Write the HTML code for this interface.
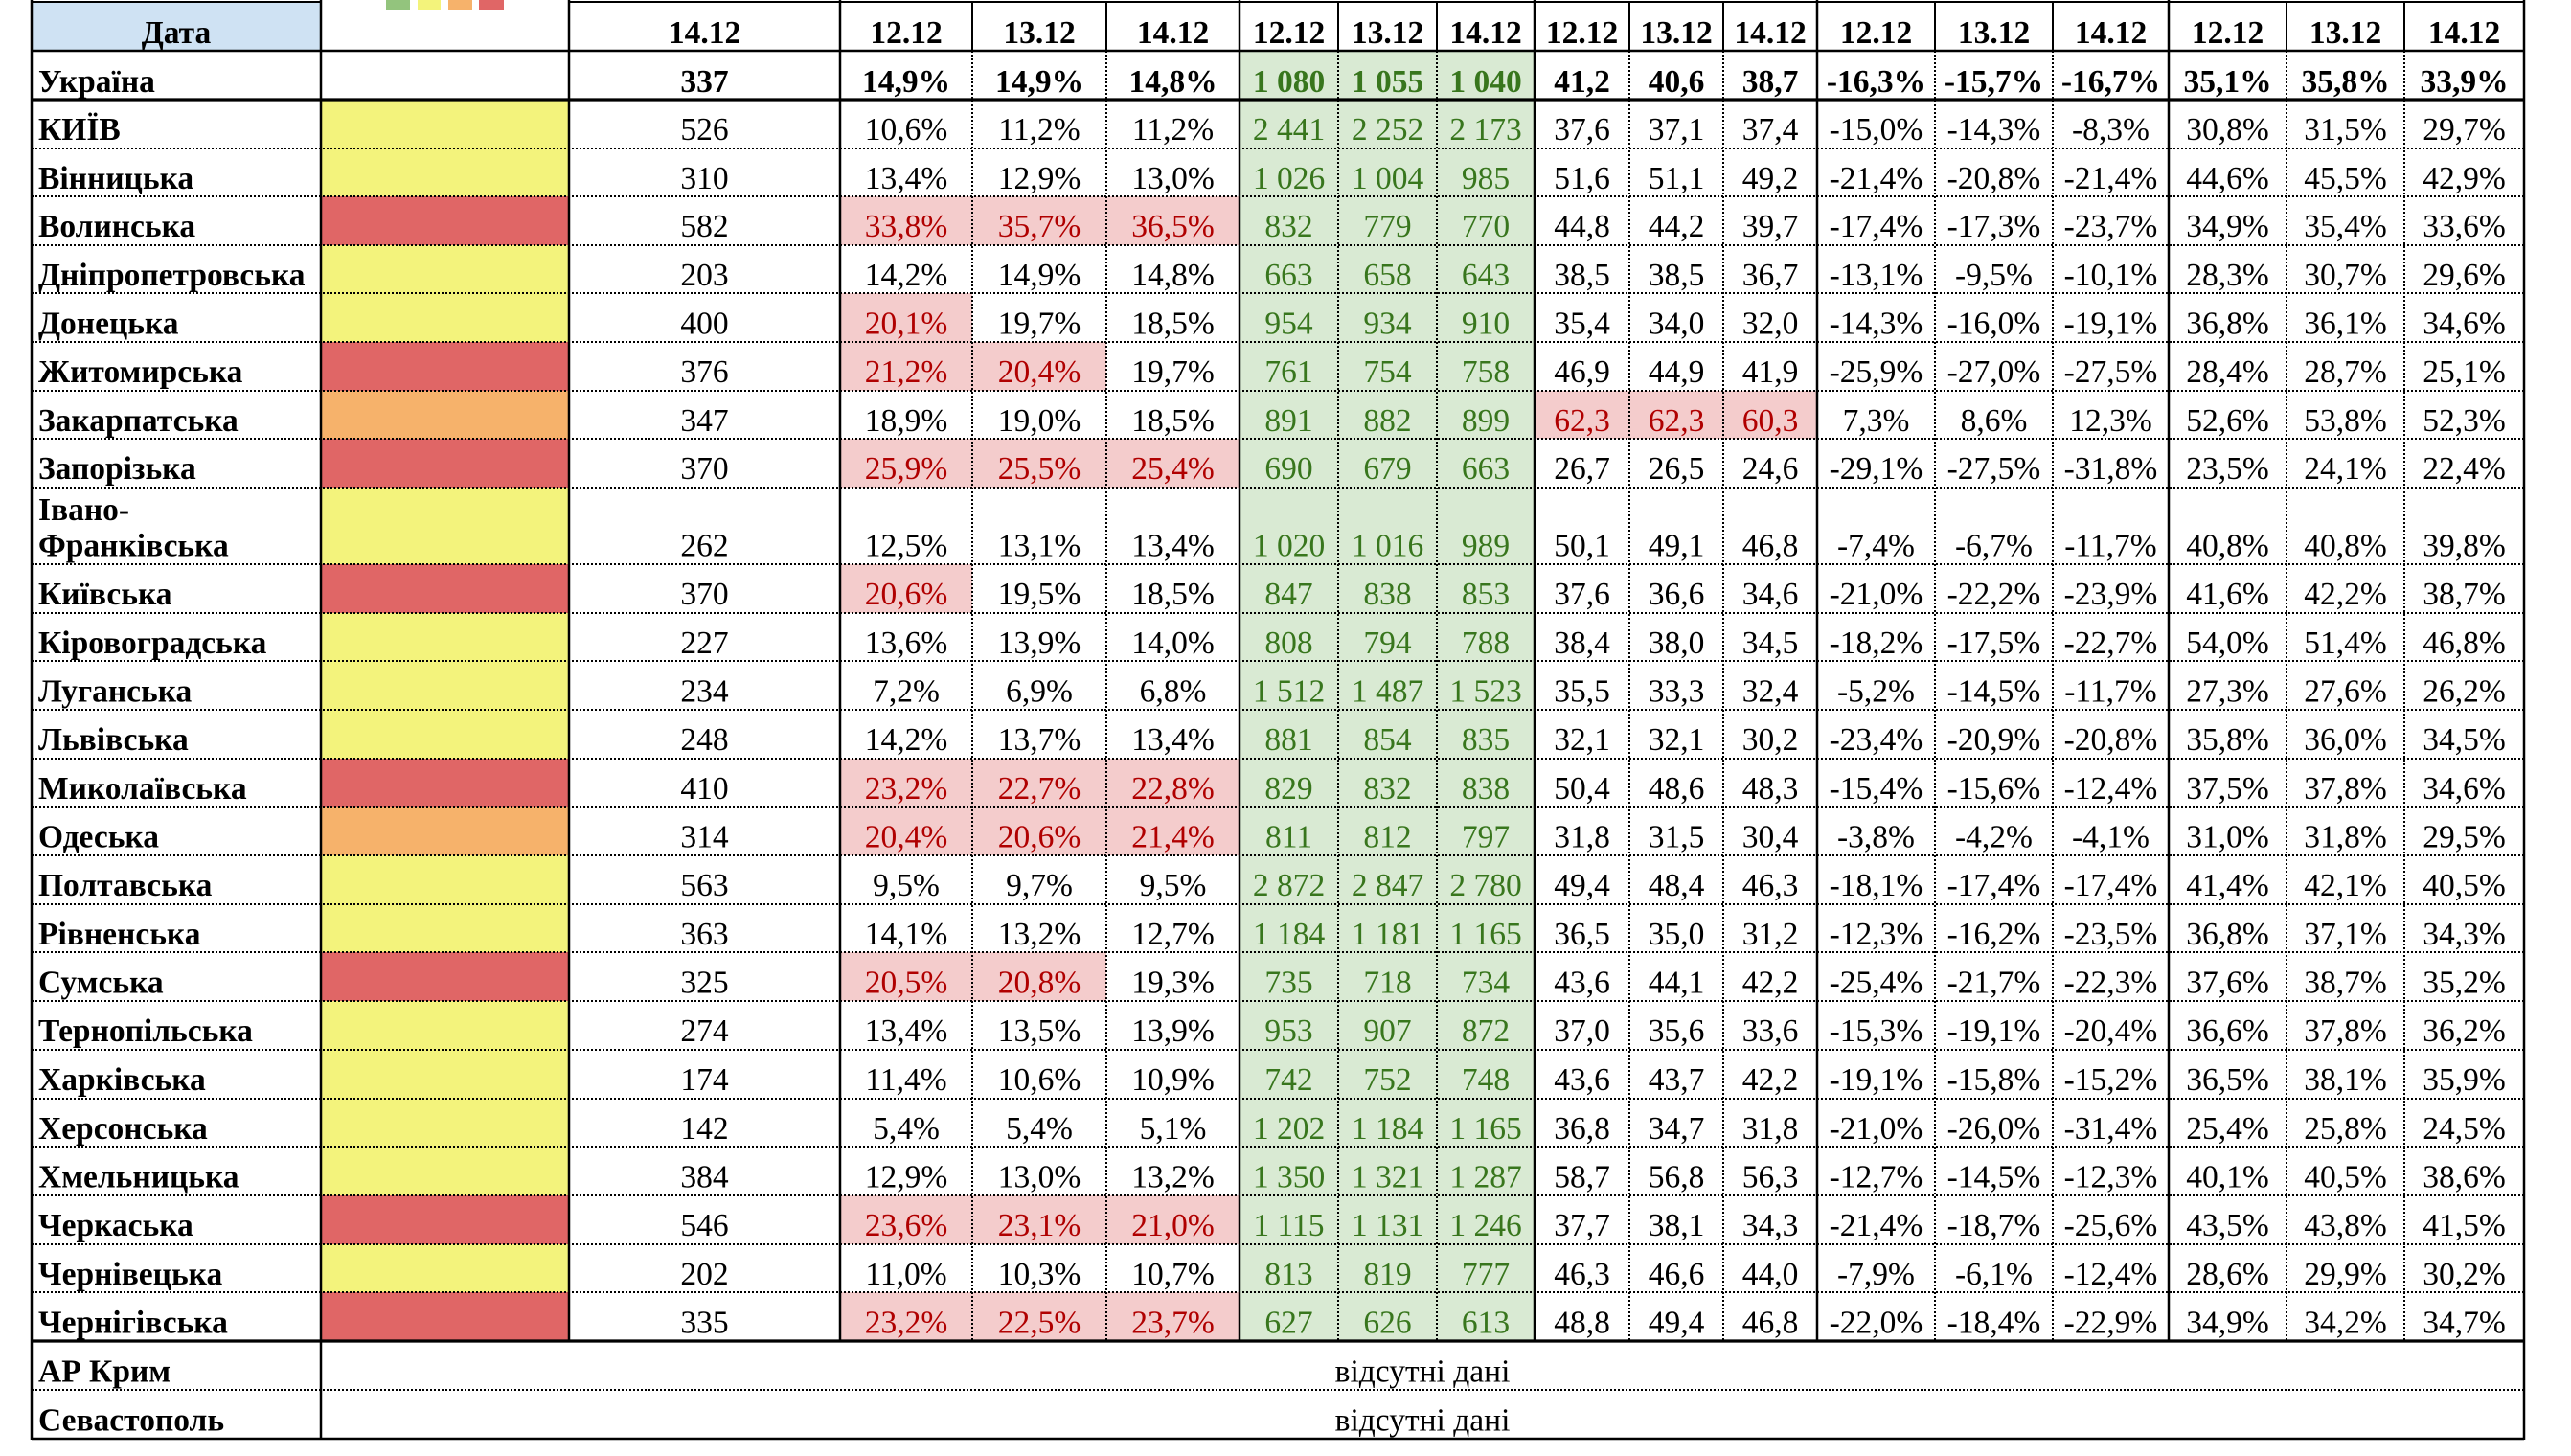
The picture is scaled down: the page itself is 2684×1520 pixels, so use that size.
<!DOCTYPE html>
<html><head><meta charset="utf-8">
<style>
html,body{margin:0;padding:0;background:#fff;}
svg{display:block;}
.t{font-family:"Liberation Serif","Times New Roman",serif;font-size:33.5px;fill:#000;}
.n{text-anchor:middle;}
.b{font-weight:bold;}
.g{fill:#38761d;}
.r{fill:#b00000;}
.sol{stroke:#000;fill:none;}
.dot{stroke:#000;stroke-width:2;stroke-dasharray:2 2;fill:none;shape-rendering:crispEdges;}
</style></head>
<body>
<svg width="2684" height="1520" viewBox="0 0 2684 1520" xmlns="http://www.w3.org/2000/svg">
<rect x="0" y="0" width="2684" height="1520" fill="#fff"/>
<!-- legend squares -->
<rect x="403" y="0" width="25" height="10" fill="#93c47d"/>
<rect x="436" y="0" width="24" height="10" fill="#f3f37b"/>
<rect x="468" y="0" width="25" height="10" fill="#f6b26b"/>
<rect x="500" y="0" width="26" height="10" fill="#e06666"/>
<!-- Дата fill -->
<rect x="33" y="3" width="302" height="50" fill="#cfe2f3"/>
<!-- green columns -->
<rect x="1294" y="53" width="308" height="1347" fill="#d9ead3"/>
<!-- color column fills -->
<g shape-rendering="crispEdges">
<rect x="335" y="104" width="259" height="51" fill="#f3f37c"/>
<rect x="335" y="155" width="259" height="50" fill="#f3f37c"/>
<rect x="335" y="205" width="259" height="51" fill="#e06666"/>
<rect x="335" y="256" width="259" height="50" fill="#f3f37c"/>
<rect x="335" y="306" width="259" height="51" fill="#f3f37c"/>
<rect x="335" y="357" width="259" height="51" fill="#e06666"/>
<rect x="335" y="408" width="259" height="50" fill="#f6b26b"/>
<rect x="335" y="458" width="259" height="51" fill="#e06666"/>
<rect x="335" y="509" width="259" height="80" fill="#f3f37c"/>
<rect x="335" y="589" width="259" height="51" fill="#e06666"/>
<rect x="335" y="640" width="259" height="50" fill="#f3f37c"/>
<rect x="335" y="690" width="259" height="51" fill="#f3f37c"/>
<rect x="335" y="741" width="259" height="51" fill="#f3f37c"/>
<rect x="335" y="792" width="259" height="50" fill="#e06666"/>
<rect x="335" y="842" width="259" height="51" fill="#f6b26b"/>
<rect x="335" y="893" width="259" height="51" fill="#f3f37c"/>
<rect x="335" y="944" width="259" height="50" fill="#f3f37c"/>
<rect x="335" y="994" width="259" height="51" fill="#e06666"/>
<rect x="335" y="1045" width="259" height="51" fill="#f3f37c"/>
<rect x="335" y="1096" width="259" height="51" fill="#f3f37c"/>
<rect x="335" y="1147" width="259" height="50" fill="#f3f37c"/>
<rect x="335" y="1197" width="259" height="51" fill="#f3f37c"/>
<rect x="335" y="1248" width="259" height="51" fill="#e06666"/>
<rect x="335" y="1299" width="259" height="50" fill="#f3f37c"/>
<rect x="335" y="1349" width="259" height="51" fill="#e06666"/>
</g>
<!-- pink cells -->
<g fill="#f4cccc" shape-rendering="crispEdges">
<rect x="877" y="205" width="417" height="51"/>
<rect x="877" y="306" width="138" height="51"/>
<rect x="877" y="357" width="278" height="51"/>
<rect x="1602" y="408" width="295" height="50"/>
<rect x="877" y="458" width="417" height="51"/>
<rect x="877" y="589" width="138" height="51"/>
<rect x="877" y="792" width="417" height="50"/>
<rect x="877" y="842" width="417" height="51"/>
<rect x="877" y="994" width="278" height="51"/>
<rect x="877" y="1248" width="417" height="51"/>
<rect x="877" y="1349" width="417" height="51"/>
</g>
<!-- dotted horizontal lines -->
<g class="dot">
<line x1="33" x2="2635" y1="155" y2="155"/>
<line x1="33" x2="2635" y1="205" y2="205"/>
<line x1="33" x2="2635" y1="256" y2="256"/>
<line x1="33" x2="2635" y1="306" y2="306"/>
<line x1="33" x2="2635" y1="357" y2="357"/>
<line x1="33" x2="2635" y1="408" y2="408"/>
<line x1="33" x2="2635" y1="458" y2="458"/>
<line x1="33" x2="2635" y1="509" y2="509"/>
<line x1="33" x2="2635" y1="589" y2="589"/>
<line x1="33" x2="2635" y1="640" y2="640"/>
<line x1="33" x2="2635" y1="690" y2="690"/>
<line x1="33" x2="2635" y1="741" y2="741"/>
<line x1="33" x2="2635" y1="792" y2="792"/>
<line x1="33" x2="2635" y1="842" y2="842"/>
<line x1="33" x2="2635" y1="893" y2="893"/>
<line x1="33" x2="2635" y1="944" y2="944"/>
<line x1="33" x2="2635" y1="994" y2="994"/>
<line x1="33" x2="2635" y1="1045" y2="1045"/>
<line x1="33" x2="2635" y1="1096" y2="1096"/>
<line x1="33" x2="2635" y1="1147" y2="1147"/>
<line x1="33" x2="2635" y1="1197" y2="1197"/>
<line x1="33" x2="2635" y1="1248" y2="1248"/>
<line x1="33" x2="2635" y1="1299" y2="1299"/>
<line x1="33" x2="2635" y1="1349" y2="1349"/>
<line x1="33" x2="2635" y1="1451" y2="1451"/>
</g>
<!-- dotted vertical lines in data rows -->
<g class="dot">
<line x1="1015" x2="1015" y1="53" y2="1400"/>
<line x1="1155" x2="1155" y1="53" y2="1400"/>
<line x1="1397" x2="1397" y1="53" y2="1400"/>
<line x1="1500" x2="1500" y1="53" y2="1400"/>
<line x1="1701" x2="1701" y1="53" y2="1400"/>
<line x1="1799" x2="1799" y1="53" y2="1400"/>
<line x1="2020" x2="2020" y1="53" y2="1400"/>
<line x1="2143" x2="2143" y1="53" y2="1400"/>
<line x1="2387" x2="2387" y1="53" y2="1400"/>
<line x1="2510" x2="2510" y1="53" y2="1400"/>
</g>
<!-- solid lines -->
<g class="sol" stroke-width="2" shape-rendering="crispEdges">
<line x1="1015" x2="1015" y1="2" y2="53"/>
<line x1="1155" x2="1155" y1="2" y2="53"/>
<line x1="1397" x2="1397" y1="2" y2="53"/>
<line x1="1500" x2="1500" y1="2" y2="53"/>
<line x1="1701" x2="1701" y1="2" y2="53"/>
<line x1="1799" x2="1799" y1="2" y2="53"/>
<line x1="2020" x2="2020" y1="2" y2="53"/>
<line x1="2143" x2="2143" y1="2" y2="53"/>
<line x1="2387" x2="2387" y1="2" y2="53"/>
<line x1="2510" x2="2510" y1="2" y2="53"/>
<line x1="33" x2="335" y1="2" y2="2"/>
<line x1="594" x2="2635" y1="2" y2="2"/>
</g>
<g class="sol" stroke-width="2.5">
<line x1="33" x2="33" y1="0" y2="1503"/>
<line x1="335" x2="335" y1="0" y2="1503"/>
<line x1="594" x2="594" y1="0" y2="1400"/>
<line x1="877" x2="877" y1="0" y2="1400"/>
<line x1="1294" x2="1294" y1="0" y2="1400"/>
<line x1="1602" x2="1602" y1="0" y2="1400"/>
<line x1="1897" x2="1897" y1="0" y2="1400"/>
<line x1="2264" x2="2264" y1="0" y2="1400"/>
<line x1="2635" x2="2635" y1="0" y2="1503"/>
<line x1="33" x2="2635" y1="53" y2="53"/>
<line x1="33" x2="2635" y1="1502" y2="1502"/>
</g>
<g class="sol" stroke-width="3.2">
<line x1="33" x2="2635" y1="104" y2="104"/>
<line x1="33" x2="2635" y1="1400" y2="1400"/>
</g>

<!-- TEXT -->
<g class="t">
<!-- header -->
<text y="45" class="b n"><tspan x="184">Дата</tspan><tspan x="735.5">14.12</tspan><tspan x="946">12.12</tspan><tspan x="1085">13.12</tspan><tspan x="1224.5">14.12</tspan><tspan x="1345.5">12.12</tspan><tspan x="1448.5">13.12</tspan><tspan x="1551">14.12</tspan><tspan x="1651.5">12.12</tspan><tspan x="1750">13.12</tspan><tspan x="1848">14.12</tspan><tspan x="1958.5">12.12</tspan><tspan x="2081.5">13.12</tspan><tspan x="2203.5">14.12</tspan><tspan x="2325.5">12.12</tspan><tspan x="2448.5">13.12</tspan><tspan x="2572.5">14.12</tspan></text>

<!-- names -->
<g class="b">
<text x="40" y="96">Україна</text>
<text x="40" y="146">КИЇВ</text>
<text x="40" y="197">Вінницька</text>
<text x="40" y="247">Волинська</text>
<text x="40" y="298">Дніпропетровська</text>
<text x="40" y="348.5">Донецька</text>
<text x="40" y="399">Житомирська</text>
<text x="40" y="450">Закарпатська</text>
<text x="40" y="500">Запорізька</text>
<text x="40" y="543">Івано-</text>
<text x="40" y="580.5">Франківська</text>
<text x="40" y="631">Київська</text>
<text x="40" y="682">Кіровоградська</text>
<text x="40" y="732.5">Луганська</text>
<text x="40" y="783">Львівська</text>
<text x="40" y="834">Миколаївська</text>
<text x="40" y="884.5">Одеська</text>
<text x="40" y="935">Полтавська</text>
<text x="40" y="986">Рівненська</text>
<text x="40" y="1036.5">Сумська</text>
<text x="40" y="1087">Тернопільська</text>
<text x="40" y="1138">Харківська</text>
<text x="40" y="1189">Херсонська</text>
<text x="40" y="1239.5">Хмельницька</text>
<text x="40" y="1290">Черкаська</text>
<text x="40" y="1341">Чернівецька</text>
<text x="40" y="1391.5">Чернігівська</text>
<text x="40" y="1442.5">АР Крим</text>
<text x="40" y="1493.5">Севастополь</text>
</g>

<!-- Ukraine row -->
<text y="96" class="b n"><tspan x="735.5">337</tspan><tspan x="946">14,9%</tspan><tspan x="1085">14,9%</tspan><tspan x="1224.5">14,8%</tspan><tspan x="1345.5" class="g">1 080</tspan><tspan x="1448.5" class="g">1 055</tspan><tspan x="1551" class="g">1 040</tspan><tspan x="1651.5">41,2</tspan><tspan x="1750">40,6</tspan><tspan x="1848">38,7</tspan><tspan x="1958.5">-16,3%</tspan><tspan x="2081.5">-15,7%</tspan><tspan x="2203.5">-16,7%</tspan><tspan x="2325.5">35,1%</tspan><tspan x="2448.5">35,8%</tspan><tspan x="2572.5">33,9%</tspan></text>

<text y="146" class="n"><tspan x="735.5">526</tspan><tspan x="946">10,6%</tspan><tspan x="1085">11,2%</tspan><tspan x="1224.5">11,2%</tspan><tspan x="1345.5" class="g">2 441</tspan><tspan x="1448.5" class="g">2 252</tspan><tspan x="1551" class="g">2 173</tspan><tspan x="1651.5">37,6</tspan><tspan x="1750">37,1</tspan><tspan x="1848">37,4</tspan><tspan x="1958.5">-15,0%</tspan><tspan x="2081.5">-14,3%</tspan><tspan x="2203.5">-8,3%</tspan><tspan x="2325.5">30,8%</tspan><tspan x="2448.5">31,5%</tspan><tspan x="2572.5">29,7%</tspan></text>

<text y="197" class="n"><tspan x="735.5">310</tspan><tspan x="946">13,4%</tspan><tspan x="1085">12,9%</tspan><tspan x="1224.5">13,0%</tspan><tspan x="1345.5" class="g">1 026</tspan><tspan x="1448.5" class="g">1 004</tspan><tspan x="1551" class="g">985</tspan><tspan x="1651.5">51,6</tspan><tspan x="1750">51,1</tspan><tspan x="1848">49,2</tspan><tspan x="1958.5">-21,4%</tspan><tspan x="2081.5">-20,8%</tspan><tspan x="2203.5">-21,4%</tspan><tspan x="2325.5">44,6%</tspan><tspan x="2448.5">45,5%</tspan><tspan x="2572.5">42,9%</tspan></text>

<text y="247" class="n"><tspan x="735.5">582</tspan><tspan x="946" class="r">33,8%</tspan><tspan x="1085" class="r">35,7%</tspan><tspan x="1224.5" class="r">36,5%</tspan><tspan x="1345.5" class="g">832</tspan><tspan x="1448.5" class="g">779</tspan><tspan x="1551" class="g">770</tspan><tspan x="1651.5">44,8</tspan><tspan x="1750">44,2</tspan><tspan x="1848">39,7</tspan><tspan x="1958.5">-17,4%</tspan><tspan x="2081.5">-17,3%</tspan><tspan x="2203.5">-23,7%</tspan><tspan x="2325.5">34,9%</tspan><tspan x="2448.5">35,4%</tspan><tspan x="2572.5">33,6%</tspan></text>

<text y="298" class="n"><tspan x="735.5">203</tspan><tspan x="946">14,2%</tspan><tspan x="1085">14,9%</tspan><tspan x="1224.5">14,8%</tspan><tspan x="1345.5" class="g">663</tspan><tspan x="1448.5" class="g">658</tspan><tspan x="1551" class="g">643</tspan><tspan x="1651.5">38,5</tspan><tspan x="1750">38,5</tspan><tspan x="1848">36,7</tspan><tspan x="1958.5">-13,1%</tspan><tspan x="2081.5">-9,5%</tspan><tspan x="2203.5">-10,1%</tspan><tspan x="2325.5">28,3%</tspan><tspan x="2448.5">30,7%</tspan><tspan x="2572.5">29,6%</tspan></text>

<text y="348.5" class="n"><tspan x="735.5">400</tspan><tspan x="946" class="r">20,1%</tspan><tspan x="1085">19,7%</tspan><tspan x="1224.5">18,5%</tspan><tspan x="1345.5" class="g">954</tspan><tspan x="1448.5" class="g">934</tspan><tspan x="1551" class="g">910</tspan><tspan x="1651.5">35,4</tspan><tspan x="1750">34,0</tspan><tspan x="1848">32,0</tspan><tspan x="1958.5">-14,3%</tspan><tspan x="2081.5">-16,0%</tspan><tspan x="2203.5">-19,1%</tspan><tspan x="2325.5">36,8%</tspan><tspan x="2448.5">36,1%</tspan><tspan x="2572.5">34,6%</tspan></text>

<text y="399" class="n"><tspan x="735.5">376</tspan><tspan x="946" class="r">21,2%</tspan><tspan x="1085" class="r">20,4%</tspan><tspan x="1224.5">19,7%</tspan><tspan x="1345.5" class="g">761</tspan><tspan x="1448.5" class="g">754</tspan><tspan x="1551" class="g">758</tspan><tspan x="1651.5">46,9</tspan><tspan x="1750">44,9</tspan><tspan x="1848">41,9</tspan><tspan x="1958.5">-25,9%</tspan><tspan x="2081.5">-27,0%</tspan><tspan x="2203.5">-27,5%</tspan><tspan x="2325.5">28,4%</tspan><tspan x="2448.5">28,7%</tspan><tspan x="2572.5">25,1%</tspan></text>

<text y="450" class="n"><tspan x="735.5">347</tspan><tspan x="946">18,9%</tspan><tspan x="1085">19,0%</tspan><tspan x="1224.5">18,5%</tspan><tspan x="1345.5" class="g">891</tspan><tspan x="1448.5" class="g">882</tspan><tspan x="1551" class="g">899</tspan><tspan x="1651.5" class="r">62,3</tspan><tspan x="1750" class="r">62,3</tspan><tspan x="1848" class="r">60,3</tspan><tspan x="1958.5">7,3%</tspan><tspan x="2081.5">8,6%</tspan><tspan x="2203.5">12,3%</tspan><tspan x="2325.5">52,6%</tspan><tspan x="2448.5">53,8%</tspan><tspan x="2572.5">52,3%</tspan></text>

<text y="500" class="n"><tspan x="735.5">370</tspan><tspan x="946" class="r">25,9%</tspan><tspan x="1085" class="r">25,5%</tspan><tspan x="1224.5" class="r">25,4%</tspan><tspan x="1345.5" class="g">690</tspan><tspan x="1448.5" class="g">679</tspan><tspan x="1551" class="g">663</tspan><tspan x="1651.5">26,7</tspan><tspan x="1750">26,5</tspan><tspan x="1848">24,6</tspan><tspan x="1958.5">-29,1%</tspan><tspan x="2081.5">-27,5%</tspan><tspan x="2203.5">-31,8%</tspan><tspan x="2325.5">23,5%</tspan><tspan x="2448.5">24,1%</tspan><tspan x="2572.5">22,4%</tspan></text>

<text y="580.5" class="n"><tspan x="735.5">262</tspan><tspan x="946">12,5%</tspan><tspan x="1085">13,1%</tspan><tspan x="1224.5">13,4%</tspan><tspan x="1345.5" class="g">1 020</tspan><tspan x="1448.5" class="g">1 016</tspan><tspan x="1551" class="g">989</tspan><tspan x="1651.5">50,1</tspan><tspan x="1750">49,1</tspan><tspan x="1848">46,8</tspan><tspan x="1958.5">-7,4%</tspan><tspan x="2081.5">-6,7%</tspan><tspan x="2203.5">-11,7%</tspan><tspan x="2325.5">40,8%</tspan><tspan x="2448.5">40,8%</tspan><tspan x="2572.5">39,8%</tspan></text>

<text y="631" class="n"><tspan x="735.5">370</tspan><tspan x="946" class="r">20,6%</tspan><tspan x="1085">19,5%</tspan><tspan x="1224.5">18,5%</tspan><tspan x="1345.5" class="g">847</tspan><tspan x="1448.5" class="g">838</tspan><tspan x="1551" class="g">853</tspan><tspan x="1651.5">37,6</tspan><tspan x="1750">36,6</tspan><tspan x="1848">34,6</tspan><tspan x="1958.5">-21,0%</tspan><tspan x="2081.5">-22,2%</tspan><tspan x="2203.5">-23,9%</tspan><tspan x="2325.5">41,6%</tspan><tspan x="2448.5">42,2%</tspan><tspan x="2572.5">38,7%</tspan></text>

<text y="682" class="n"><tspan x="735.5">227</tspan><tspan x="946">13,6%</tspan><tspan x="1085">13,9%</tspan><tspan x="1224.5">14,0%</tspan><tspan x="1345.5" class="g">808</tspan><tspan x="1448.5" class="g">794</tspan><tspan x="1551" class="g">788</tspan><tspan x="1651.5">38,4</tspan><tspan x="1750">38,0</tspan><tspan x="1848">34,5</tspan><tspan x="1958.5">-18,2%</tspan><tspan x="2081.5">-17,5%</tspan><tspan x="2203.5">-22,7%</tspan><tspan x="2325.5">54,0%</tspan><tspan x="2448.5">51,4%</tspan><tspan x="2572.5">46,8%</tspan></text>

<text y="732.5" class="n"><tspan x="735.5">234</tspan><tspan x="946">7,2%</tspan><tspan x="1085">6,9%</tspan><tspan x="1224.5">6,8%</tspan><tspan x="1345.5" class="g">1 512</tspan><tspan x="1448.5" class="g">1 487</tspan><tspan x="1551" class="g">1 523</tspan><tspan x="1651.5">35,5</tspan><tspan x="1750">33,3</tspan><tspan x="1848">32,4</tspan><tspan x="1958.5">-5,2%</tspan><tspan x="2081.5">-14,5%</tspan><tspan x="2203.5">-11,7%</tspan><tspan x="2325.5">27,3%</tspan><tspan x="2448.5">27,6%</tspan><tspan x="2572.5">26,2%</tspan></text>

<text y="783" class="n"><tspan x="735.5">248</tspan><tspan x="946">14,2%</tspan><tspan x="1085">13,7%</tspan><tspan x="1224.5">13,4%</tspan><tspan x="1345.5" class="g">881</tspan><tspan x="1448.5" class="g">854</tspan><tspan x="1551" class="g">835</tspan><tspan x="1651.5">32,1</tspan><tspan x="1750">32,1</tspan><tspan x="1848">30,2</tspan><tspan x="1958.5">-23,4%</tspan><tspan x="2081.5">-20,9%</tspan><tspan x="2203.5">-20,8%</tspan><tspan x="2325.5">35,8%</tspan><tspan x="2448.5">36,0%</tspan><tspan x="2572.5">34,5%</tspan></text>

<text y="834" class="n"><tspan x="735.5">410</tspan><tspan x="946" class="r">23,2%</tspan><tspan x="1085" class="r">22,7%</tspan><tspan x="1224.5" class="r">22,8%</tspan><tspan x="1345.5" class="g">829</tspan><tspan x="1448.5" class="g">832</tspan><tspan x="1551" class="g">838</tspan><tspan x="1651.5">50,4</tspan><tspan x="1750">48,6</tspan><tspan x="1848">48,3</tspan><tspan x="1958.5">-15,4%</tspan><tspan x="2081.5">-15,6%</tspan><tspan x="2203.5">-12,4%</tspan><tspan x="2325.5">37,5%</tspan><tspan x="2448.5">37,8%</tspan><tspan x="2572.5">34,6%</tspan></text>

<text y="884.5" class="n"><tspan x="735.5">314</tspan><tspan x="946" class="r">20,4%</tspan><tspan x="1085" class="r">20,6%</tspan><tspan x="1224.5" class="r">21,4%</tspan><tspan x="1345.5" class="g">811</tspan><tspan x="1448.5" class="g">812</tspan><tspan x="1551" class="g">797</tspan><tspan x="1651.5">31,8</tspan><tspan x="1750">31,5</tspan><tspan x="1848">30,4</tspan><tspan x="1958.5">-3,8%</tspan><tspan x="2081.5">-4,2%</tspan><tspan x="2203.5">-4,1%</tspan><tspan x="2325.5">31,0%</tspan><tspan x="2448.5">31,8%</tspan><tspan x="2572.5">29,5%</tspan></text>

<text y="935" class="n"><tspan x="735.5">563</tspan><tspan x="946">9,5%</tspan><tspan x="1085">9,7%</tspan><tspan x="1224.5">9,5%</tspan><tspan x="1345.5" class="g">2 872</tspan><tspan x="1448.5" class="g">2 847</tspan><tspan x="1551" class="g">2 780</tspan><tspan x="1651.5">49,4</tspan><tspan x="1750">48,4</tspan><tspan x="1848">46,3</tspan><tspan x="1958.5">-18,1%</tspan><tspan x="2081.5">-17,4%</tspan><tspan x="2203.5">-17,4%</tspan><tspan x="2325.5">41,4%</tspan><tspan x="2448.5">42,1%</tspan><tspan x="2572.5">40,5%</tspan></text>

<text y="986" class="n"><tspan x="735.5">363</tspan><tspan x="946">14,1%</tspan><tspan x="1085">13,2%</tspan><tspan x="1224.5">12,7%</tspan><tspan x="1345.5" class="g">1 184</tspan><tspan x="1448.5" class="g">1 181</tspan><tspan x="1551" class="g">1 165</tspan><tspan x="1651.5">36,5</tspan><tspan x="1750">35,0</tspan><tspan x="1848">31,2</tspan><tspan x="1958.5">-12,3%</tspan><tspan x="2081.5">-16,2%</tspan><tspan x="2203.5">-23,5%</tspan><tspan x="2325.5">36,8%</tspan><tspan x="2448.5">37,1%</tspan><tspan x="2572.5">34,3%</tspan></text>

<text y="1036.5" class="n"><tspan x="735.5">325</tspan><tspan x="946" class="r">20,5%</tspan><tspan x="1085" class="r">20,8%</tspan><tspan x="1224.5">19,3%</tspan><tspan x="1345.5" class="g">735</tspan><tspan x="1448.5" class="g">718</tspan><tspan x="1551" class="g">734</tspan><tspan x="1651.5">43,6</tspan><tspan x="1750">44,1</tspan><tspan x="1848">42,2</tspan><tspan x="1958.5">-25,4%</tspan><tspan x="2081.5">-21,7%</tspan><tspan x="2203.5">-22,3%</tspan><tspan x="2325.5">37,6%</tspan><tspan x="2448.5">38,7%</tspan><tspan x="2572.5">35,2%</tspan></text>

<text y="1087" class="n"><tspan x="735.5">274</tspan><tspan x="946">13,4%</tspan><tspan x="1085">13,5%</tspan><tspan x="1224.5">13,9%</tspan><tspan x="1345.5" class="g">953</tspan><tspan x="1448.5" class="g">907</tspan><tspan x="1551" class="g">872</tspan><tspan x="1651.5">37,0</tspan><tspan x="1750">35,6</tspan><tspan x="1848">33,6</tspan><tspan x="1958.5">-15,3%</tspan><tspan x="2081.5">-19,1%</tspan><tspan x="2203.5">-20,4%</tspan><tspan x="2325.5">36,6%</tspan><tspan x="2448.5">37,8%</tspan><tspan x="2572.5">36,2%</tspan></text>

<text y="1138" class="n"><tspan x="735.5">174</tspan><tspan x="946">11,4%</tspan><tspan x="1085">10,6%</tspan><tspan x="1224.5">10,9%</tspan><tspan x="1345.5" class="g">742</tspan><tspan x="1448.5" class="g">752</tspan><tspan x="1551" class="g">748</tspan><tspan x="1651.5">43,6</tspan><tspan x="1750">43,7</tspan><tspan x="1848">42,2</tspan><tspan x="1958.5">-19,1%</tspan><tspan x="2081.5">-15,8%</tspan><tspan x="2203.5">-15,2%</tspan><tspan x="2325.5">36,5%</tspan><tspan x="2448.5">38,1%</tspan><tspan x="2572.5">35,9%</tspan></text>

<text y="1189" class="n"><tspan x="735.5">142</tspan><tspan x="946">5,4%</tspan><tspan x="1085">5,4%</tspan><tspan x="1224.5">5,1%</tspan><tspan x="1345.5" class="g">1 202</tspan><tspan x="1448.5" class="g">1 184</tspan><tspan x="1551" class="g">1 165</tspan><tspan x="1651.5">36,8</tspan><tspan x="1750">34,7</tspan><tspan x="1848">31,8</tspan><tspan x="1958.5">-21,0%</tspan><tspan x="2081.5">-26,0%</tspan><tspan x="2203.5">-31,4%</tspan><tspan x="2325.5">25,4%</tspan><tspan x="2448.5">25,8%</tspan><tspan x="2572.5">24,5%</tspan></text>

<text y="1239.5" class="n"><tspan x="735.5">384</tspan><tspan x="946">12,9%</tspan><tspan x="1085">13,0%</tspan><tspan x="1224.5">13,2%</tspan><tspan x="1345.5" class="g">1 350</tspan><tspan x="1448.5" class="g">1 321</tspan><tspan x="1551" class="g">1 287</tspan><tspan x="1651.5">58,7</tspan><tspan x="1750">56,8</tspan><tspan x="1848">56,3</tspan><tspan x="1958.5">-12,7%</tspan><tspan x="2081.5">-14,5%</tspan><tspan x="2203.5">-12,3%</tspan><tspan x="2325.5">40,1%</tspan><tspan x="2448.5">40,5%</tspan><tspan x="2572.5">38,6%</tspan></text>

<text y="1290" class="n"><tspan x="735.5">546</tspan><tspan x="946" class="r">23,6%</tspan><tspan x="1085" class="r">23,1%</tspan><tspan x="1224.5" class="r">21,0%</tspan><tspan x="1345.5" class="g">1 115</tspan><tspan x="1448.5" class="g">1 131</tspan><tspan x="1551" class="g">1 246</tspan><tspan x="1651.5">37,7</tspan><tspan x="1750">38,1</tspan><tspan x="1848">34,3</tspan><tspan x="1958.5">-21,4%</tspan><tspan x="2081.5">-18,7%</tspan><tspan x="2203.5">-25,6%</tspan><tspan x="2325.5">43,5%</tspan><tspan x="2448.5">43,8%</tspan><tspan x="2572.5">41,5%</tspan></text>

<text y="1341" class="n"><tspan x="735.5">202</tspan><tspan x="946">11,0%</tspan><tspan x="1085">10,3%</tspan><tspan x="1224.5">10,7%</tspan><tspan x="1345.5" class="g">813</tspan><tspan x="1448.5" class="g">819</tspan><tspan x="1551" class="g">777</tspan><tspan x="1651.5">46,3</tspan><tspan x="1750">46,6</tspan><tspan x="1848">44,0</tspan><tspan x="1958.5">-7,9%</tspan><tspan x="2081.5">-6,1%</tspan><tspan x="2203.5">-12,4%</tspan><tspan x="2325.5">28,6%</tspan><tspan x="2448.5">29,9%</tspan><tspan x="2572.5">30,2%</tspan></text>

<text y="1391.5" class="n"><tspan x="735.5">335</tspan><tspan x="946" class="r">23,2%</tspan><tspan x="1085" class="r">22,5%</tspan><tspan x="1224.5" class="r">23,7%</tspan><tspan x="1345.5" class="g">627</tspan><tspan x="1448.5" class="g">626</tspan><tspan x="1551" class="g">613</tspan><tspan x="1651.5">48,8</tspan><tspan x="1750">49,4</tspan><tspan x="1848">46,8</tspan><tspan x="1958.5">-22,0%</tspan><tspan x="2081.5">-18,4%</tspan><tspan x="2203.5">-22,9%</tspan><tspan x="2325.5">34,9%</tspan><tspan x="2448.5">34,2%</tspan><tspan x="2572.5">34,7%</tspan></text>

<text x="1485" y="1442.5" class="n">відсутні дані</text>
<text x="1485" y="1493.5" class="n">відсутні дані</text>
</g>
</svg>
</body></html>
